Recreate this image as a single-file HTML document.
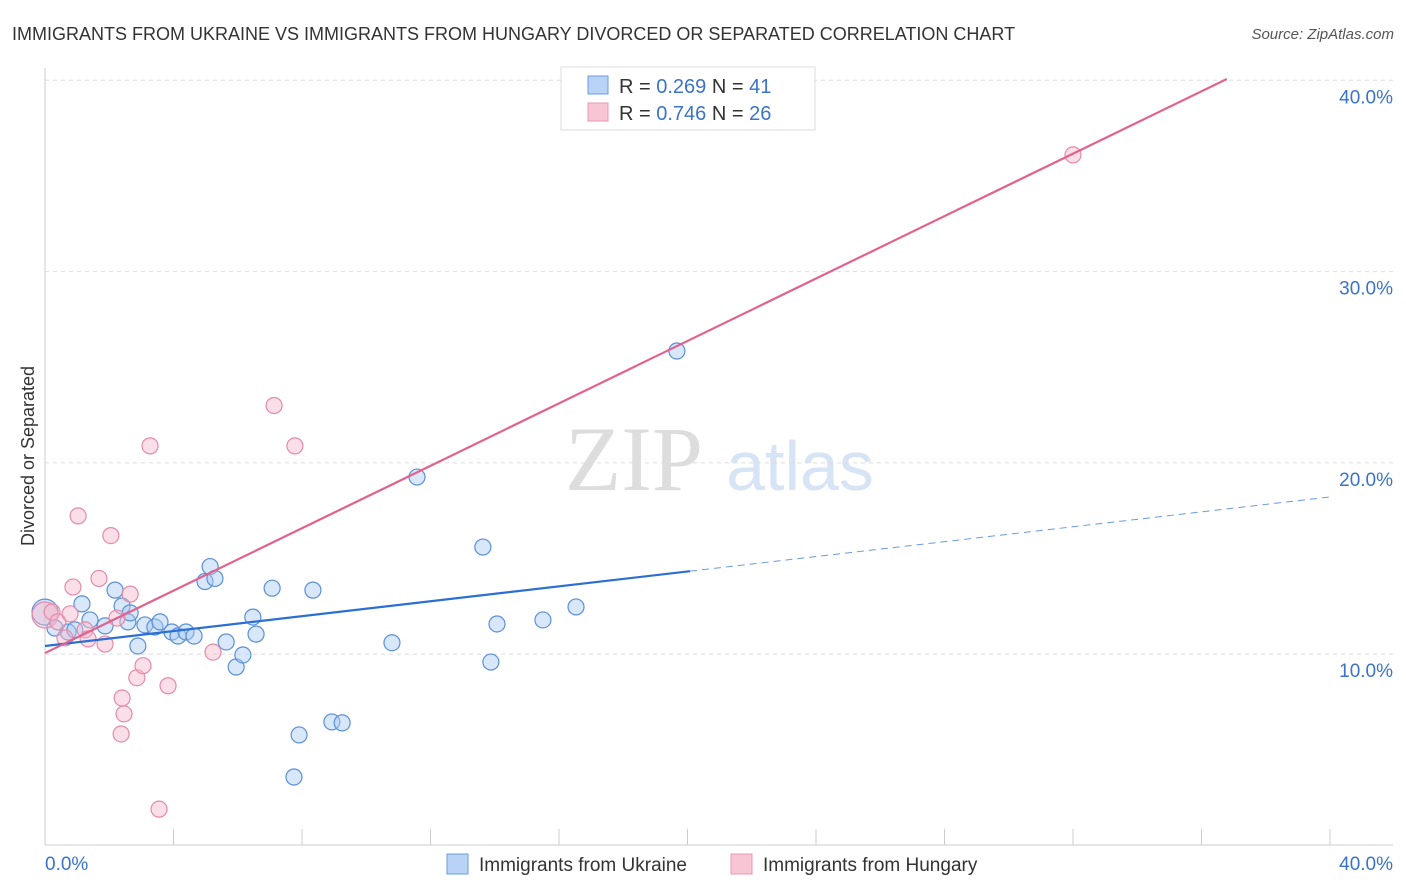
<!DOCTYPE html>
<html><head><meta charset="utf-8">
<style>
body{margin:0;background:#fff;font-family:"Liberation Sans",sans-serif;}
#wrap{position:relative;width:1406px;height:892px;overflow:hidden;}
</style></head>
<body>
<div id="wrap">
<svg id="svg" width="1406" height="892" xmlns="http://www.w3.org/2000/svg">
<text x="12" y="40" font-size="18" fill="#333">IMMIGRANTS FROM UKRAINE VS IMMIGRANTS FROM HUNGARY DIVORCED OR SEPARATED CORRELATION CHART</text>
<text x="1394" y="39" font-size="15" fill="#555" font-style="italic" text-anchor="end">Source: ZipAtlas.com</text>
<text x="634" y="490" font-size="92" fill="#ddd" font-family="Liberation Serif,serif" text-anchor="middle">ZIP</text>
<text x="800" y="490" font-size="70" fill="#d6e4f5" text-anchor="middle">atlas</text>
<text transform="translate(34,456) rotate(-90)" font-size="18" fill="#333" text-anchor="middle">Divorced or Separated</text>
<g id="grid"></g><g id="axes"></g><g id="marks"></g>
<g>
<rect x="561" y="67" width="254" height="63" fill="#fff" stroke="#ddd"/>
<rect x="588" y="76" width="20" height="18" fill="#b8d3f5" stroke="#6b9ee0"/>
<rect x="588" y="103" width="20" height="18" fill="#f8c5d5" stroke="#e89ab3"/>
<text x="619" y="93" font-size="20" fill="#333">R = <tspan fill="#3b73c9">0.269</tspan>   N = <tspan fill="#3b73c9">41</tspan></text>
<text x="619" y="120" font-size="20" fill="#333">R = <tspan fill="#3b73c9">0.746</tspan>   N = <tspan fill="#3b73c9">26</tspan></text>
</g>
<g>
<rect x="447" y="854" width="21" height="20" fill="#b8d3f5" stroke="#6b9ee0"/>
<text x="479" y="871" font-size="19" fill="#333">Immigrants from Ukraine</text>
<rect x="731" y="854" width="21" height="20" fill="#f8c5d5" stroke="#e89ab3"/>
<text x="763" y="871" font-size="19" fill="#333">Immigrants from Hungary</text>
</g>
</svg>
</div>
<script>
const yTicks=[10,20,30,40];
const yTickLabels=["10.0%","20.0%","30.0%","40.0%"];
const ukraineX=[0,0.31,0.72,0.93,1.15,1.4,1.87,2.18,2.4,2.58,2.65,2.89,3.11,3.42,3.58,3.95,4.14,4.39,4.64,4.98,5.14,5.29,5.64,5.95,6.16,6.47,6.57,7.07,7.75,7.91,8.34,8.93,9.25,10.8,11.58,13.63,13.88,14.07,15.5,16.53,19.67];
const ukraineY=[12.2,11.37,11.16,11.27,12.63,11.79,11.48,13.35,12.52,11.69,12.16,10.43,11.53,11.42,11.69,11.16,10.95,11.16,10.95,13.8,14.58,13.96,10.64,9.33,9.96,11.94,11.05,13.45,3.58,5.78,13.35,6.46,6.41,10.6,19.26,15.6,9.59,11.58,11.79,12.47,25.85];
const hungaryX=[0,0.22,0.4,0.62,0.78,0.87,1.03,1.25,1.34,1.68,1.87,2.05,2.24,2.4,2.46,2.37,2.65,2.86,3.05,3.27,3.55,3.83,5.23,7.13,7.78,32.0];
const hungaryY=[12.05,12.21,11.69,10.85,12.11,13.51,17.23,11.27,10.8,13.96,10.53,16.2,11.89,7.71,6.88,5.83,13.14,8.77,9.4,20.89,1.9,8.35,10.11,23.0,20.89,36.1];
const ukraineTrend=[10.43,18.22], ukraineSolidEnd=20.08;
const hungaryTrend=[10.06,40.07], hungaryTrendEnd=36.79;
const NS="http://www.w3.org/2000/svg";
const X=v=>45+v*32.125, Y=v=>845.5-v*19.13;
function mk(tag,attrs,parent){const e=document.createElementNS(NS,tag);for(const k in attrs)e.setAttribute(k,attrs[k]);document.getElementById(parent).appendChild(e);return e;}
yTicks.forEach((t,i)=>{
 const g=mk('line',{x1:45,x2:1393,y1:Y(t),y2:Y(t),stroke:'#ddd','stroke-dasharray':'4,4'},'grid');
 
 
 const l=mk('text',{x:1393,y:Y(t)+23,'font-size':19,fill:'#3b73c9','text-anchor':'end'},'grid');
 l.textContent=yTickLabels[i];
 
 
});
mk('line',{x1:45,x2:45,y1:68,y2:845,stroke:'#ccc'},'axes');
mk('line',{x1:45,x2:1393,y1:845,y2:845,stroke:'#ccc'},'axes');
for(let i=0;i<=10;i++){const t=mk('line',{x1:X(i*4),x2:X(i*4),y1:829,y2:845,stroke:'#ccc'},'axes');
 
 }
const x0=mk('text',{x:45,y:870,'font-size':19,fill:'#3b73c9'},'axes');x0.textContent='0.0%';


const x1=mk('text',{x:1393,y:870,'font-size':19,fill:'#3b73c9','text-anchor':'end'},'axes');x1.textContent='40.0%';


function pts(xs,ys,fill,stroke,name){xs.forEach((x,i)=>{
 const c=mk('circle',{cx:X(x),cy:Y(ys[i]),r:i==0?13:8,fill:fill,'fill-opacity':0.45,stroke:stroke,'stroke-width':1.2},'marks');
 
 });}
pts(ukraineX,ukraineY,'#a9c9f2','#5b8fd8','ukraine-point');
pts(hungaryX,hungaryY,'#f6b8cb','#e58aa8','hungary-point');
const uy=x=>ukraineTrend[0]+(ukraineTrend[1]-ukraineTrend[0])*x/40;
let l1=mk('line',{x1:X(0),y1:Y(uy(0)),x2:X(ukraineSolidEnd),y2:Y(uy(ukraineSolidEnd)),stroke:'#2b6fd4','stroke-width':2.2},'marks');


let l2=mk('line',{x1:X(ukraineSolidEnd),y1:Y(uy(ukraineSolidEnd)),x2:X(40),y2:Y(uy(40)),stroke:'#2b6fd4','stroke-width':1,'stroke-dasharray':'7,5','stroke-opacity':0.7},'marks');


let l3=mk('line',{x1:X(0),y1:Y(hungaryTrend[0]),x2:X(hungaryTrendEnd),y2:Y(hungaryTrend[1]),stroke:'#e2628f','stroke-width':2.2},'marks');


</script>
</body></html>
